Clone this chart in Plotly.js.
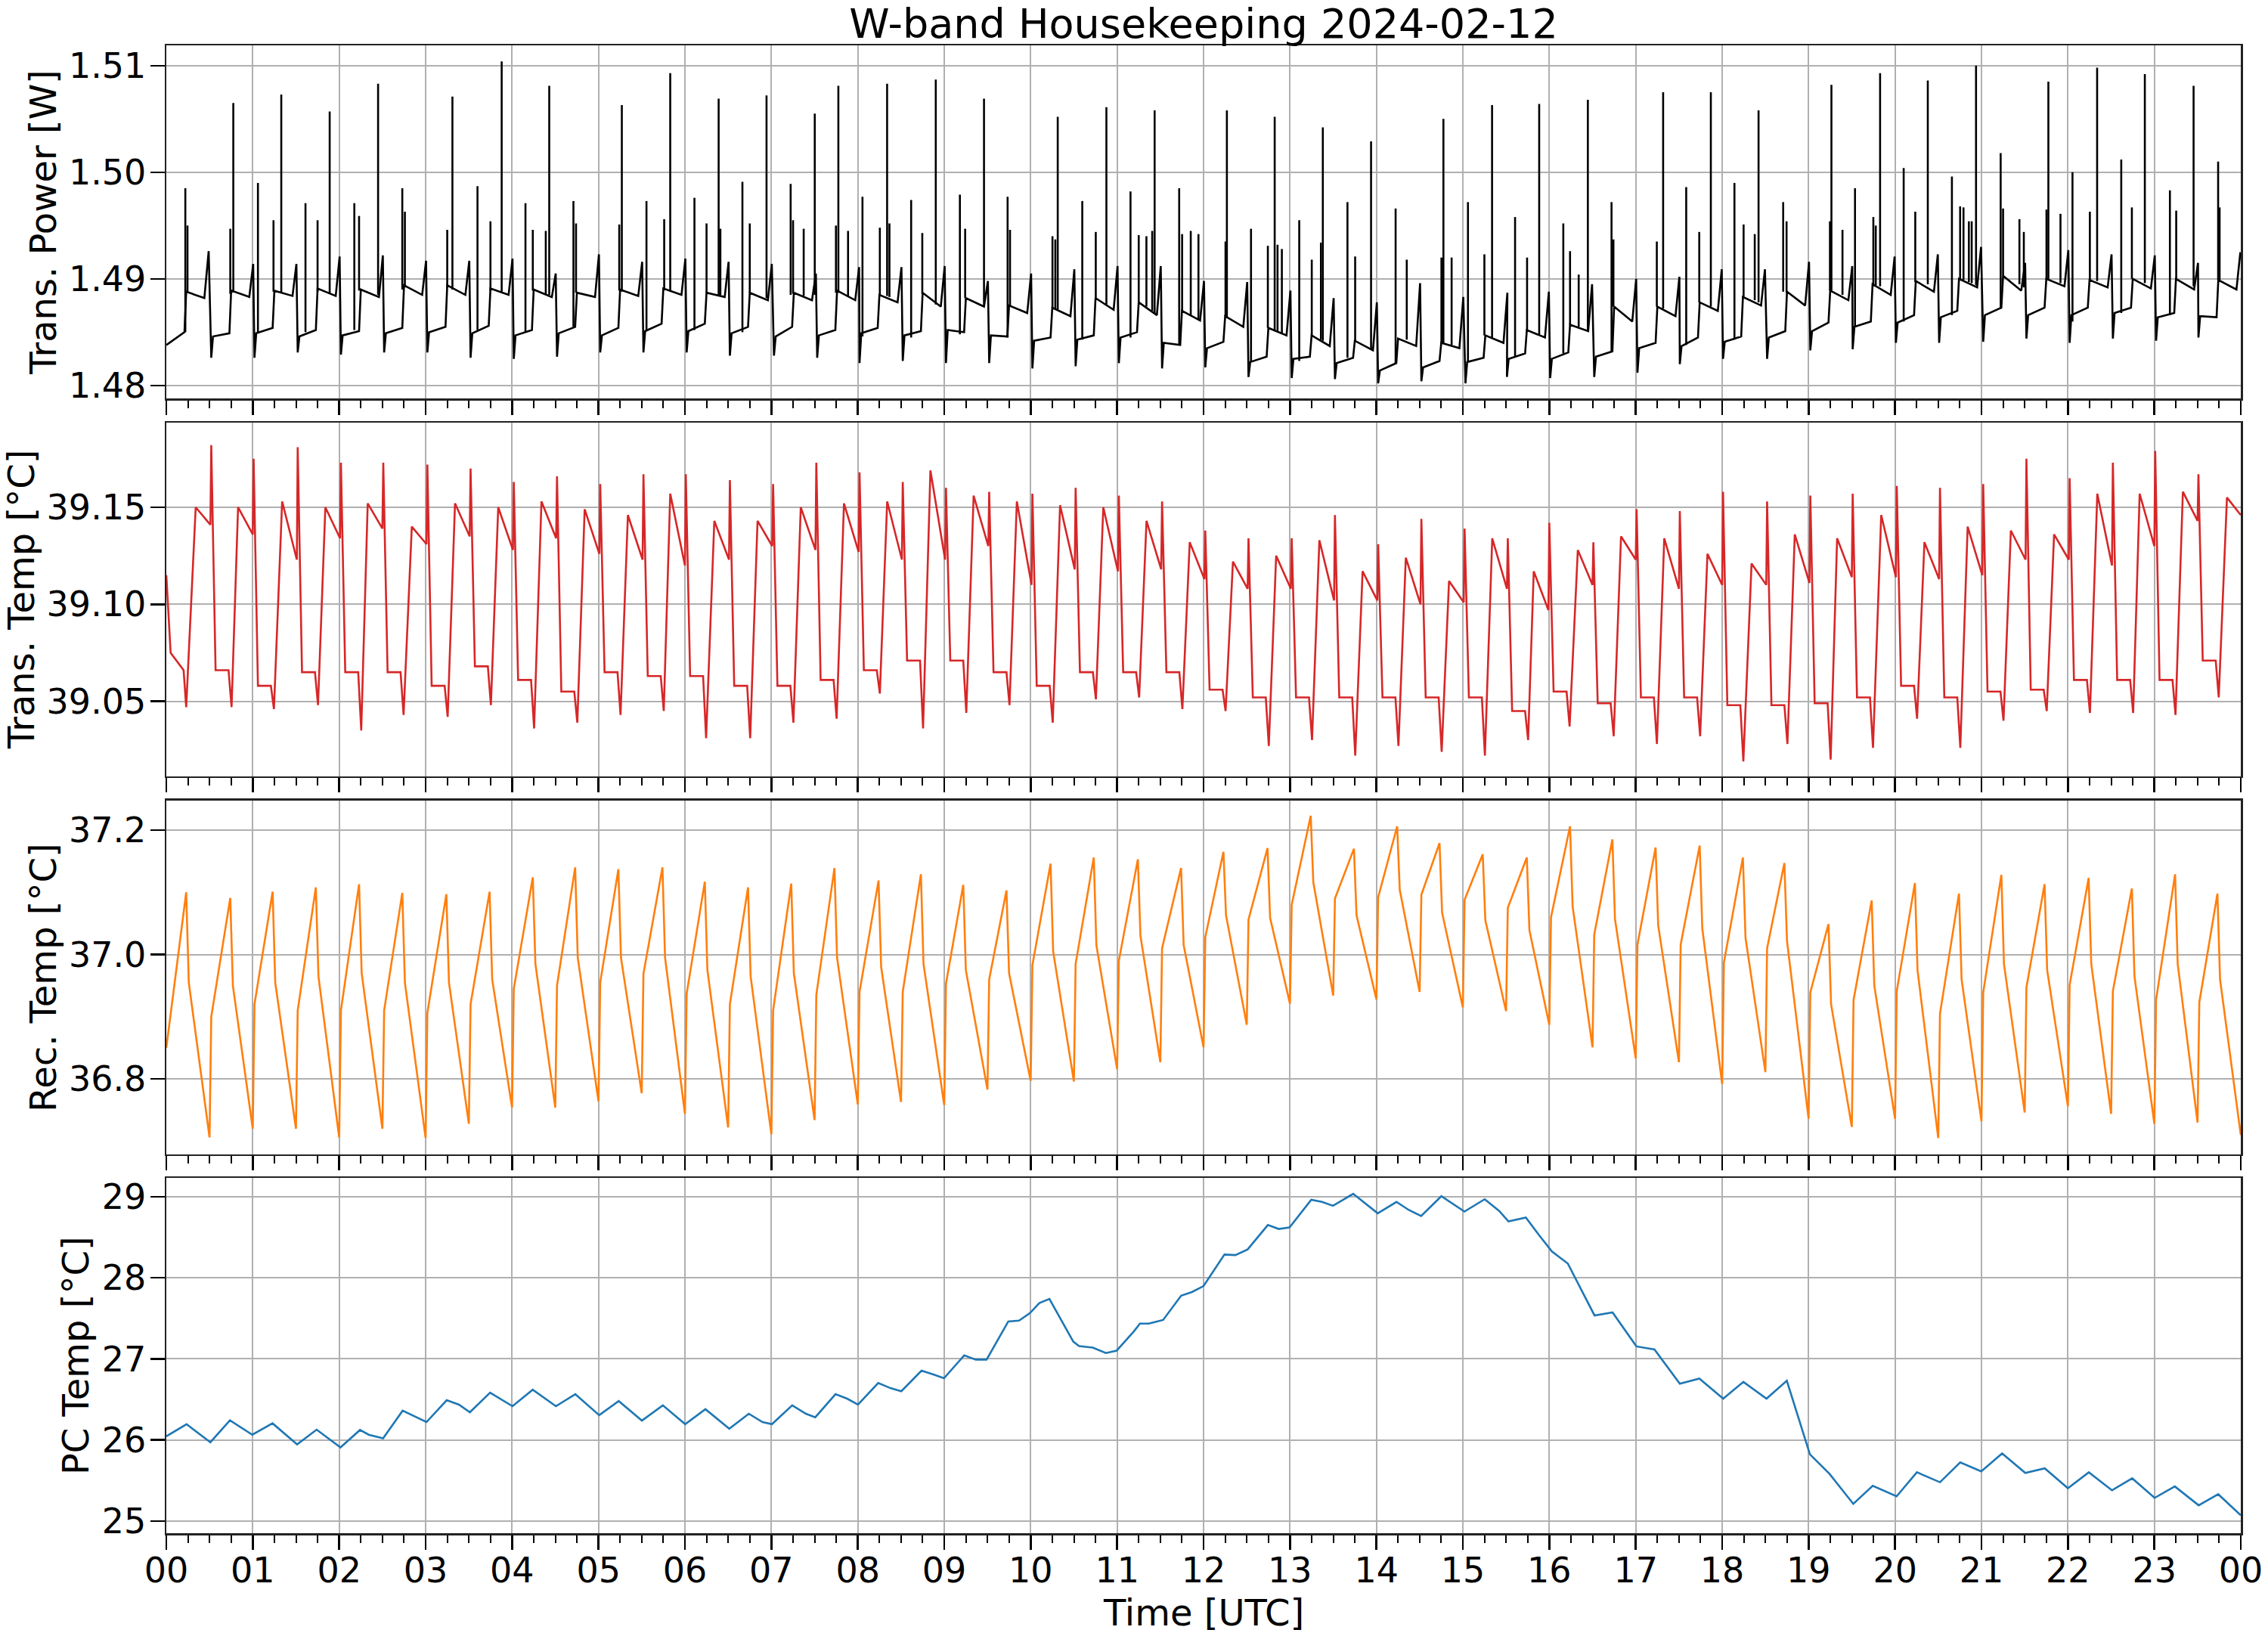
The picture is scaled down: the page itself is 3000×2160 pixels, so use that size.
<!DOCTYPE html>
<html>
<head>
<meta charset="utf-8">
<script src="https://cdn.plot.ly/plotly-3.0.1.min.js"></script>
<style>
  body { margin: 0; background: #fff; }
  #chart { width: 3000px; height: 2160px; }
</style>
</head>
<body>
<div id="chart"></div>
<script>
// x axis: hours of the day (UTC)
var hourTicks = [0,1,2,3,4,5,6,7,8,9,10,11,12,13,14,15,16,17,18,19,20,21,22,23,24];
var hourLabels = ['00','01','02','03','04','05','06','07','08','09','10','11','12',
                  '13','14','15','16','17','18','19','20','21','22','23','00'];

// ---- Trans. Power [W] : one 30-min cycle = dip, low level, step up, high level, small ramp peak
var pwLeadT = [0, 0.21, 0.23, 0.44, 0.49];
var pwLeadV = [1.4838, 1.4850, 1.4888, 1.4882, 1.4926];
var pwDipT = [0.52,1.02,1.52,2.02,2.52,3.02,3.52,4.02,4.52,5.02,5.52,6.02,6.52,
  7.03,7.53,8.02,8.52,9.02,9.52,10.02,10.52,11.02,11.52,12.02,12.52,13.02,13.52,14.02,14.52,15.03,
  15.51,16.01,16.52,17.02,17.51,18.01,18.52,19.02,19.51,20.01,20.51,21.02,21.52,22.02,22.52,23.02,23.51];
var pwDip = [1.4826,1.4826,1.4831,1.4829,1.4831,1.4831,1.4826,1.4825,1.4827,1.4831,1.4831,1.4831,1.4828,
  1.4828,1.4826,1.4821,1.4823,1.4821,1.4821,1.4816,1.4818,1.4821,1.4816,1.4817,1.4808,1.4807,1.4806,1.4802,1.4804,1.4802,
  1.4808,1.4807,1.4808,1.4812,1.4820,1.4825,1.4825,1.4833,1.4834,1.4840,1.4840,1.4841,1.4844,1.4840,1.4844,1.4842,1.4845];
var pwLowA = [1.4846,1.4849,1.4846,1.4847,1.4849,1.4850,1.4849,1.4847,1.4849,1.4847,1.4851,1.4851,1.4849,
  1.4846,1.4847,1.4849,1.4847,1.4852,1.4847,1.4842,1.4843,1.4845,1.4840,1.4835,1.4822,1.4825,1.4821,1.4814,1.4817,1.4822,
  1.4825,1.4825,1.4827,1.4835,1.4837,1.4841,1.4845,1.4851,1.4855,1.4859,1.4864,1.4866,1.4866,1.4866,1.4868,1.4864,1.4865];
var pwLowB = [1.4849,1.4854,1.4852,1.4851,1.4854,1.4855,1.4856,1.4852,1.4855,1.4854,1.4858,1.4858,1.4855,
  1.4855,1.4852,1.4854,1.4851,1.4850,1.4846,1.4845,1.4847,1.4850,1.4838,1.4841,1.4827,1.4827,1.4826,1.4821,1.4823,1.4826,
  1.4830,1.4831,1.4832,1.4840,1.4845,1.4846,1.4851,1.4859,1.4860,1.4866,1.4870,1.4873,1.4873,1.4873,1.4873,1.4868,1.4864];
var pwHighA = [1.4889,1.4889,1.4891,1.4890,1.4894,1.4894,1.4891,1.4890,1.4887,1.4890,1.4891,1.4887,1.4887,
  1.4887,1.4889,1.4885,1.4887,1.4882,1.4875,1.4873,1.4882,1.4878,1.4870,1.4865,1.4854,1.4847,1.4842,1.4844,1.4840,1.4847,
  1.4852,1.4857,1.4874,1.4874,1.4878,1.4883,1.4888,1.4889,1.4895,1.4898,1.4900,1.4903,1.4900,1.4899,1.4900,1.4900,1.4899];
var pwHighB = [1.4883,1.4884,1.4884,1.4883,1.4885,1.4885,1.4885,1.4883,1.4883,1.4884,1.4885,1.4883,1.4880,
  1.4880,1.4880,1.4878,1.4874,1.4874,1.4868,1.4865,1.4871,1.4866,1.4861,1.4855,1.4847,1.4837,1.4833,1.4837,1.4835,1.4840,
  1.4845,1.4851,1.4860,1.4865,1.4870,1.4875,1.4875,1.4880,1.4885,1.4888,1.4892,1.4889,1.4893,1.4892,1.4891,1.4890,1.4890];
var pwPeak = [1.4914,1.4914,1.4921,1.4922,1.4917,1.4917,1.4919,1.4905,1.4923,1.4916,1.4919,1.4916,1.4914,
  1.4905,1.4911,1.4911,1.4912,1.4898,1.4905,1.4909,1.4912,1.4912,1.4898,1.4897,1.4889,1.4882,1.4878,1.4896,1.4883,1.4887,
  1.4888,1.4895,1.4900,1.4902,1.4909,1.4909,1.4916,1.4912,1.4921,1.4923,1.4930,1.4915,1.4927,1.4923,1.4922,1.4915,1.4925];

// narrow spikes: time, top value, level they rise from
var pwSpikeT = [0.22,0.245,0.74,0.775,1.06,1.24,1.33,1.61,1.75,1.89,2.175,2.23,2.45,2.73,2.76,3.25,3.31,3.6,3.75,3.88,
  4.155,4.24,4.39,4.43,4.71,4.74,5.24,5.27,5.555,5.76,5.83,6.11,6.25,6.39,6.41,6.665,6.75,
  6.944,7.223,7.251,7.374,7.502,7.747,7.775,7.887,8.054,8.255,8.339,8.366,8.617,8.746,8.902,9.181,9.242,9.46,9.733,9.761,
  10.252,10.285,10.313,10.597,10.753,10.876,11.155,11.25,11.339,11.406,11.434,11.718,11.752,11.852,11.941,12.254,12.27,
  12.549,12.744,12.823,12.856,12.906,13.107,13.252,13.358,13.38,13.665,13.754,13.938,14.222,14.351,14.752,14.775,14.87,
  15.059,15.249,15.338,
  15.604,15.743,15.883,16.162,16.24,16.34,16.446,16.72,16.742,17.244,17.317,17.584,17.735,17.869,18.142,18.248,18.377,
  18.421,18.706,18.745,19.247,19.264,19.392,19.537,19.749,19.777,19.827,20.1,20.234,20.379,20.658,20.753,20.792,20.854,
  20.887,20.937,21.222,21.25,21.439,21.49,21.752,21.774,21.914,22.053,22.254,22.338,22.617,22.74,22.89,23.18,23.253,
  23.454,23.738,23.755];
var pwSpikeV = [1.4985,1.4950,1.4947,1.5065,1.4990,1.4955,1.5073,1.4971,1.4955,1.5057,1.4971,1.4959,1.5083,1.4985,1.4963,
  1.4946,1.5071,1.4987,1.4954,1.5104,1.4971,1.4946,1.4945,1.5081,1.4973,1.4952,1.4951,1.5063,1.4973,1.4956,1.5093,1.4976,
  1.4952,1.5069,1.4947,1.4991,1.4952,
  1.5072,1.4989,1.4955,1.4947,1.5055,1.4950,1.5081,1.4945,1.4977,1.4948,1.5083,1.4952,1.4974,1.4943,1.5087,1.4979,1.4947,
  1.5069,1.4977,1.4946,1.4940,1.4937,1.5052,1.4973,1.4944,1.5061,1.4982,1.4941,1.4940,1.4945,1.5058,1.4985,1.4942,1.4945,
  1.4942,1.4935,1.5058,1.4947,1.4931,1.5052,1.4932,1.4928,1.4955,1.4918,1.4934,1.5042,1.4972,1.4921,1.5029,1.4966,1.4918,
  1.4920,1.5050,1.4920,1.4972,1.4923,1.5063,
  1.4958,1.4920,1.5064,1.4952,1.4926,1.4904,1.5068,1.4972,1.4937,1.4935,1.5075,1.4986,1.4944,1.5075,1.4990,1.4951,1.4942,
  1.5058,1.4972,1.4954,1.4954,1.5082,1.4946,1.4985,1.4958,1.4950,1.5093,1.5004,1.4963,1.5086,1.4996,1.4968,1.4967,1.4954,
  1.4954,1.5100,1.5018,1.4966,1.4956,1.4944,1.4965,1.5085,1.4961,1.5000,1.4963,1.5098,1.5012,1.4967,1.5092,1.4983,1.4964,
  1.5081,1.5010,1.4967];
var pwSpikeFoot = [1.4850,1.4888,1.4886,1.4888,1.4849,1.4888,1.4887,1.4850,1.4888,1.4886,1.4852,1.4889,1.4885,1.4890,1.4892,
  1.4892,1.4890,1.4852,1.4889,1.4888,1.4850,1.4889,1.4885,1.4885,1.4855,1.4887,1.4889,1.4888,1.4852,1.4890,1.4888,1.4852,
  1.4887,1.4885,1.4885,1.4850,1.4887,
  1.4882,1.4885,1.4886,1.4884,1.4885,1.4887,1.4887,1.4884,1.4846,1.4885,1.4884,1.4883,1.4845,1.4886,1.4876,1.4848,1.4882,
  1.4876,1.4845,1.4875,1.4873,1.4872,1.4871,1.4843,1.4882,1.4876,1.4845,1.4878,1.4874,1.4870,1.4868,1.4839,1.4870,1.4866,
  1.4862,1.4865,1.4864,1.4822,1.4854,1.4852,1.4851,1.4849,1.4823,1.4846,1.4843,1.4842,1.4826,1.4842,1.4834,1.4821,1.4843,
  1.4840,1.4840,1.4838,1.4822,1.4847,1.4845,
  1.4827,1.4852,1.4848,1.4830,1.4857,1.4855,1.4851,1.4832,1.4874,1.4874,1.4872,1.4838,1.4878,1.4874,1.4843,1.4883,1.4880,
  1.4878,1.4888,1.4887,1.4889,1.4889,1.4885,1.4855,1.4895,1.4894,1.4893,1.4860,1.4897,1.4895,1.4866,1.4900,1.4899,1.4897,
  1.4896,1.4894,1.4872,1.4903,1.4895,1.4892,1.4900,1.4900,1.4896,1.4860,1.4899,1.4898,1.4868,1.4900,1.4896,1.4866,1.4900,
  1.4893,1.4899,1.4899];

// ---- Trans. Temp [°C] : high plateau, spike, drop, low plateau with a dip
var ttLeadT = [0, 0.05, 0.2, 0.23];
var ttLeadV = [39.115, 39.075, 39.066, 39.047];
var ttT = [0.52,1.01,1.52,2.02,2.51,3.02,3.52,4.02,4.52,5.02,5.52,6.01,6.52,
  7.02,7.52,8.02,8.52,9.02,9.52,10.02,10.52,11.02,11.52,12.02,12.52,13.02,13.52,14.02,14.52,15.02,15.52,
  16.0,16.51,17.01,17.51,18.01,18.52,19.02,19.51,20.02,20.52,21.02,21.52,22.02,22.52,23.01,23.51];
var ttHiStart = [39.150,39.150,39.153,39.150,39.152,39.140,39.152,39.150,39.153,39.149,39.146,39.157,39.143,
  39.143,39.150,39.152,39.153,39.169,39.156,39.153,39.151,39.150,39.143,39.132,39.122,39.125,39.133,39.117,39.124,39.112,39.134,
  39.117,39.128,39.135,39.134,39.126,39.121,39.136,39.134,39.146,39.132,39.140,39.138,39.136,39.157,39.157,39.158];
var ttHiEnd = [39.141,39.136,39.123,39.134,39.139,39.131,39.135,39.128,39.134,39.126,39.123,39.120,39.123,
  39.130,39.128,39.127,39.123,39.123,39.130,39.110,39.118,39.117,39.118,39.113,39.108,39.108,39.102,39.102,39.100,39.101,39.108,
  39.097,39.110,39.123,39.108,39.110,39.110,39.111,39.114,39.114,39.113,39.115,39.123,39.123,39.120,39.130,39.143];
var ttSpike = [39.182,39.175,39.181,39.173,39.173,39.172,39.170,39.163,39.166,39.162,39.167,39.167,39.164,
  39.162,39.173,39.168,39.163,39.160,39.158,39.157,39.160,39.156,39.153,39.138,39.134,39.134,39.146,39.131,39.144,39.139,39.134,
  39.142,39.132,39.149,39.148,39.158,39.153,39.156,39.157,39.161,39.160,39.162,39.175,39.165,39.173,39.179,39.167];
var ttLow = [39.066,39.058,39.065,39.065,39.065,39.058,39.068,39.061,39.055,39.065,39.063,39.063,39.058,
  39.058,39.061,39.066,39.071,39.071,39.065,39.058,39.065,39.065,39.065,39.056,39.052,39.052,39.052,39.052,39.052,39.052,39.045,
  39.055,39.049,39.052,39.052,39.048,39.048,39.049,39.052,39.058,39.052,39.055,39.056,39.061,39.061,39.061,39.071];
var ttDip = [39.047,39.046,39.048,39.035,39.043,39.042,39.048,39.036,39.039,39.043,39.045,39.031,39.031,
  39.039,39.041,39.054,39.036,39.044,39.048,39.039,39.051,39.052,39.046,39.045,39.027,39.030,39.022,39.027,39.024,39.022,39.030,
  39.037,39.032,39.028,39.032,39.019,39.028,39.020,39.026,39.041,39.026,39.040,39.045,39.044,39.044,39.043,39.052];
var ttTailT = [23.84, 24.0];
var ttTailV = [39.155, 39.146];

// ---- Rec. Temp [°C] : sawtooth, peak -> fast drop -> decline -> trough -> jump -> ramp
var recStartV = 36.85;
var recPeakT = [0.23,0.74,1.23,1.73,2.23,2.73,3.24,3.74,4.24,4.73,5.23,5.74,6.23,6.73,7.23,7.73,8.24,8.73,9.22,9.72,
  10.23,10.73,11.24,11.74,12.23,12.74,13.24,13.74,14.24,14.73,15.23,15.74,16.24,16.73,17.23,17.74,18.24,18.72,19.23,19.73,
  20.23,20.74,21.23,21.73,22.24,22.74,23.24,23.73];
var recPeak = [37.100,37.091,37.101,37.108,37.113,37.099,37.097,37.101,37.124,37.140,37.137,37.140,37.117,37.108,37.114,
  37.139,37.119,37.129,37.112,37.103,37.146,37.156,37.153,37.139,37.165,37.171,37.223,37.170,37.206,37.179,37.161,37.156,
  37.206,37.185,37.172,37.175,37.156,37.147,37.049,37.087,37.115,37.098,37.128,37.113,37.123,37.106,37.129,37.098];
var recKnee = [36.955,36.950,36.955,36.965,36.970,36.955,36.955,36.960,36.985,36.995,36.995,36.995,36.975,36.965,36.970,
  36.995,36.980,36.985,36.975,36.970,37.005,37.015,37.030,37.015,37.063,37.059,37.116,37.063,37.104,37.067,37.055,37.039,
  37.077,37.057,37.047,37.042,37.027,37.022,36.920,36.950,36.975,36.960,36.985,36.975,36.985,36.965,36.985,36.960];
var recTroughT = [0.5,1.0,1.5,2.0,2.5,3.0,3.5,4.0,4.5,5.0,5.5,6.0,6.5,7.0,7.5,8.0,8.5,9.0,9.5,10.0,10.5,11.0,11.5,12.0,
  12.5,13.0,13.5,14.0,14.5,15.0,15.5,16.0,16.5,17.0,17.5,18.0,18.5,19.0,19.5,20.0,20.5,21.0,21.5,22.0,22.5,23.0,23.5,24.0];
var recTrough = [36.706,36.720,36.720,36.706,36.720,36.705,36.728,36.754,36.754,36.764,36.777,36.744,36.722,36.711,36.734,
  36.759,36.763,36.758,36.783,36.797,36.796,36.816,36.827,36.851,36.887,36.921,36.934,36.928,36.940,36.915,36.909,36.887,
  36.851,36.833,36.827,36.792,36.811,36.736,36.723,36.736,36.705,36.732,36.746,36.756,36.744,36.728,36.730,36.710];
var recJump = [36.900,36.920,36.910,36.910,36.910,36.906,36.920,36.945,36.950,36.955,36.969,36.937,36.920,36.910,36.935,
  36.940,36.940,36.953,36.960,36.983,36.985,36.990,37.010,37.028,37.056,37.080,37.090,37.092,37.096,37.088,37.075,37.060,
  37.032,37.016,37.016,36.987,37.010,36.939,36.927,36.941,36.905,36.939,36.947,36.951,36.941,36.927,36.923];

// ---- PC Temp [°C]
var pcT = [0,0.234,0.51,0.736,0.995,1.229,1.513,1.739,2.015,2.241,2.341,2.508,2.734,2.885,3.01,3.244,3.386,3.512,3.746,
  4.005,4.239,4.507,4.732,5.008,5.234,5.502,5.744,6.003,6.237,6.513,6.739,6.898,7.007,7.241,7.40,7.508,7.742,7.876,8.002,
  8.236,8.378,8.503,8.737,8.88,8.997,9.231,9.365,9.49,9.741,9.866,9.992,10.1,10.217,10.493,10.56,10.719,10.87,10.995,
  11.197,11.264,11.365,11.532,11.741,11.866,12.0,12.242,12.368,12.51,12.744,12.87,12.995,13.246,13.371,13.497,13.731,
  14.015,14.232,14.375,14.517,14.751,15.018,15.253,15.42,15.528,15.729,15.88,16.03,16.214,16.523,16.732,17.008,17.217,
  17.51,17.736,18.012,18.246,18.513,18.748,19.015,19.241,19.517,19.742,20.018,20.253,20.52,20.754,20.997,21.239,21.507,
  21.732,22.0,22.242,22.51,22.744,23.003,23.237,23.513,23.739,24.0];
var pcV = [26.045,26.194,25.971,26.242,26.064,26.205,25.945,26.127,25.908,26.123,26.064,26.020,26.361,26.286,26.220,
  26.490,26.435,26.342,26.583,26.416,26.620,26.416,26.564,26.305,26.479,26.238,26.427,26.194,26.379,26.138,26.323,26.220,
  26.194,26.427,26.323,26.279,26.564,26.509,26.435,26.702,26.639,26.601,26.854,26.805,26.761,27.043,26.991,26.991,27.462,
  27.473,27.565,27.688,27.740,27.213,27.158,27.139,27.072,27.102,27.343,27.436,27.436,27.480,27.780,27.825,27.899,28.288,
  28.281,28.351,28.652,28.603,28.622,28.963,28.937,28.889,29.037,28.796,28.937,28.837,28.763,29.007,28.818,28.970,28.826,
  28.696,28.744,28.529,28.325,28.177,27.536,27.573,27.154,27.117,26.694,26.757,26.509,26.716,26.509,26.731,25.823,25.582,
  25.211,25.434,25.304,25.601,25.478,25.723,25.612,25.834,25.593,25.649,25.404,25.601,25.378,25.526,25.285,25.426,25.193,
  25.330,25.070];

// ---------- build polylines from the cycle tables
var pw = {x: pwLeadT.slice(), y: pwLeadV.slice()};
pwDipT.forEach(function (d, k) {
  pw.x.push(d, d + 0.02, d + 0.21, d + 0.23, d + 0.44, d + 0.485);
  pw.y.push(pwDip[k], pwLowA[k], pwLowB[k], pwHighA[k], pwHighB[k], pwPeak[k]);
});
var sp = {x: [], y: []};
pwSpikeT.forEach(function (t, i) {
  sp.x.push(t, t, null);
  sp.y.push(pwSpikeFoot[i], pwSpikeV[i], null);
});

var tt = {x: ttLeadT.slice(), y: ttLeadV.slice()};
ttT.forEach(function (s, k) {
  tt.x.push(s - 0.18, s - 0.01, s, s + 0.05, s + 0.2, s + 0.235);
  tt.y.push(ttHiStart[k], ttHiEnd[k], ttSpike[k], ttLow[k], ttLow[k], ttDip[k]);
});
tt.x = tt.x.concat(ttTailT);
tt.y = tt.y.concat(ttTailV);

var rec = {x: [0], y: [recStartV]};
recPeakT.forEach(function (p, i) {
  rec.x.push(p, p + 0.03, recTroughT[i]);
  rec.y.push(recPeak[i], recKnee[i], recTrough[i]);
  if (i < recJump.length) {
    rec.x.push(recTroughT[i] + 0.02);
    rec.y.push(recJump[i]);
  }
});

var lw = 2.6;
var traces = [
  {x: pw.x, y: pw.y, xaxis: 'x', yaxis: 'y', mode: 'lines', line: {color: '#000000', width: lw}},
  {x: sp.x, y: sp.y, xaxis: 'x', yaxis: 'y', mode: 'lines', connectgaps: false, line: {color: '#000000', width: lw}},
  {x: tt.x, y: tt.y, xaxis: 'x2', yaxis: 'y2', mode: 'lines', line: {color: '#d62728', width: lw}},
  {x: rec.x, y: rec.y, xaxis: 'x3', yaxis: 'y3', mode: 'lines', line: {color: '#ff7f0e', width: lw}},
  {x: pcT, y: pcV, xaxis: 'x4', yaxis: 'y4', mode: 'lines', line: {color: '#1f77b4', width: lw}}
];

var gridColor = '#b0b0b0';
var tickFont = {family: 'DejaVu Sans', size: 46, color: '#000'};

function xAxis(n, labels) {
  var ax = {
    anchor: n === 1 ? 'y' : 'y' + n,
    domain: [0, 1],
    range: [0, 24],
    tickmode: 'array', tickvals: hourTicks, ticktext: hourLabels,
    showticklabels: labels,
    ticks: 'outside', ticklen: 19, tickwidth: 2.5, tickcolor: '#000',
    minor: {tickmode: 'linear', tick0: 0, dtick: 0.25, ticks: 'outside', ticklen: 10, tickwidth: 2, tickcolor: '#000', showgrid: false},
    showgrid: true, gridcolor: gridColor, gridwidth: 2,
    showline: true, linecolor: '#222', linewidth: 2.5, mirror: true,
    zeroline: false, tickfont: tickFont, ticklabelstandoff: -12
  };
  if (n !== 4) ax.matches = 'x4';
  return ax;
}

function yAxis(n, domain, range, vals, fmt) {
  return {
    anchor: n === 1 ? 'x' : 'x' + n,
    domain: domain, range: range,
    tickmode: 'array', tickvals: vals, tickformat: fmt,
    ticks: 'outside', ticklen: 19, tickwidth: 2.5, tickcolor: '#000',
    showgrid: true, gridcolor: gridColor, gridwidth: 2,
    showline: true, linecolor: '#222', linewidth: 2.5, mirror: true,
    zeroline: false, tickfont: tickFont, ticklabelstandoff: -4
  };
}

function yTitle(text, x, y) {
  return {text: text, xref: 'paper', yref: 'paper', x: x, y: y, textangle: -90,
          showarrow: false, xanchor: 'center', yanchor: 'middle',
          font: {family: 'DejaVu Sans', size: 48, color: '#000'}};
}

var layout = {
  width: 3000, height: 2160,
  paper_bgcolor: '#ffffff', plot_bgcolor: '#ffffff',
  margin: {l: 220, r: 36, t: 60, b: 132},
  showlegend: false,
  hovermode: false,
  font: {family: 'DejaVu Sans, sans-serif', color: '#000'},
  title: {text: 'W-band Housekeeping 2024-02-12', font: {family: 'DejaVu Sans', size: 54, color: '#000'},
          x: 0.5, xref: 'paper', xanchor: 'center', y: 1 - 31 / 2160, yref: 'container', yanchor: 'middle'},
  xaxis: xAxis(1, false),
  xaxis2: xAxis(2, false),
  xaxis3: xAxis(3, false),
  xaxis4: xAxis(4, true),
  yaxis: yAxis(1, [0.7625, 1], [1.47876, 1.5119], [1.48, 1.49, 1.50, 1.51], '.2f'),
  yaxis2: yAxis(2, [0.5088, 0.7464], [39.0114, 39.1936], [39.05, 39.10, 39.15], '.2f'),
  yaxis3: yAxis(3, [0.2547, 0.4924], [36.679, 37.2474], [36.8, 37.0, 37.2], '.1f'),
  yaxis4: yAxis(4, [0, 0.2388], [24.849, 29.233], [25, 26, 27, 28, 29], 'd'),
  annotations: [
    yTitle('Trans. Power [W]', -0.0594, 0.8812),
    yTitle('Trans. Temp [°C]', -0.0699, 0.6276),
    yTitle('Rec. Temp [°C]', -0.0594, 0.3735),
    yTitle('PC Temp [°C]', -0.0437, 0.1194),
    {text: 'Time [UTC]', xref: 'paper', yref: 'paper', x: 0.5, y: -0.0535, showarrow: false,
     xanchor: 'center', yanchor: 'middle', font: {family: 'DejaVu Sans', size: 48, color: '#000'}}
  ]
};

Plotly.newPlot('chart', traces, layout, {staticPlot: true, displayModeBar: false});
</script>
</body>
</html>
